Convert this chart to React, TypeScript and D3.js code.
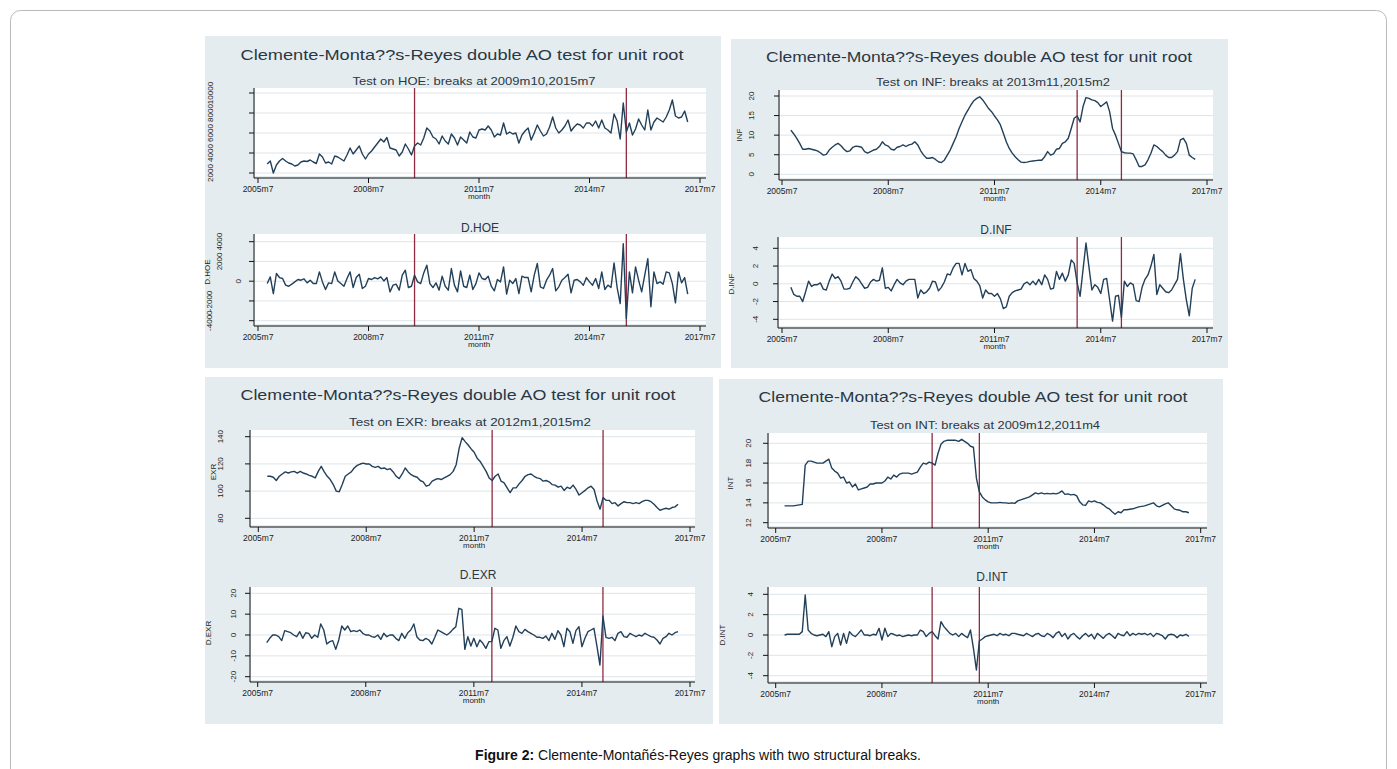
import * as d3 from "d3";
import React from "react";

// month index counted from 2005m7 (= 0); series run 2005m10 .. 2017m3
const months = d3.range(3, 141);
const xTicks = [0, 36, 72, 108, 144];
const xTickLabels = ["2005m7", "2008m7", "2011m7", "2014m7", "2017m7"];

const hoe = [
  2900, 3200, 2000, 2800, 3200, 3450, 3200, 3000, 2900, 2700,
  2800, 3100, 3200, 3150, 3300, 3100, 2950, 3900, 3600, 3000,
  3100, 2900, 3700, 3600, 3400, 3200, 3800, 4500, 3900, 4300,
  4700, 3900, 3400, 3900, 4200, 4600, 5000, 5400, 5100, 5550,
  4500, 4400, 4300, 3700, 4100, 4900, 4400, 3800, 4700, 5000,
  4800, 5500, 6500, 6200, 5600, 5400, 4900, 5700, 5200, 4900,
  5900, 5500, 4800, 5600, 5300, 5000, 6100, 5600, 5500, 6300,
  6400, 6300, 6700, 6300, 5600, 5900, 5800, 7000, 5900, 6100,
  5900, 6000, 5000, 5800, 6200, 6500, 5300, 6000, 6800, 6200,
  5700, 5900, 6600, 7600, 6500, 6000, 6300, 6700, 7300, 6200,
  6600, 6900, 6800, 6500, 7000, 7000, 6700, 7200, 6500, 7300,
  6500, 6300, 6000, 7900, 7200, 5400, 9000, 6100, 7000, 5800,
  6400, 7400, 6800, 6300, 8300, 6300, 7100, 7500, 7300, 7100,
  7600, 8300, 9300, 7700, 7500, 7600, 8200, 7100,
];
const dHoe = [
  -240, 440, -1250, 780, 370, 270, -400, -510, -300, -70,
  170, 100, 240, -170, 100, -240, -240, 940, -70, -840,
  -170, -240, 940, 30, -240, -510, 270, 940, -640, 370,
  710, -740, -510, 270, 170, 370, 240, 440, 30, 370,
  -1080, -400, -300, -910, 610, 1110, -640, -510, 610, -70,
  -240, 840, 1620, -240, -640, -170, -910, 510, -510, -910,
  1280, -400, -1080, 1040, -510, -640, 610, -840, -240, 840,
  270, 170, 510, -510, -980, 170, -70, 1450, -1310, 100,
  -240, 270, -1250, 510, 370, 370, -1080, 610, 1790, -570,
  -740, 100, 610, 1280, -980, -570, 100, 370, 710, -1180,
  100, 170, -70, -400, 370, -70, -400, 270, -740, 940,
  -840, -400, -640, 1850, -640, -2260, 3810, -3770, 940, -1180,
  1450, 100, -1080, 610, 2290, -2590, 940, -240, -70, -300,
  940, 840, -240, -2190, 940, -170, 370, -1310,
];
const inf = [
  11.3, 10.3, 9.2, 7.9, 6.4, 6.4, 6.6, 6.4, 6.2, 6.0,
  5.5, 4.9, 5.1, 6.2, 6.9, 7.5, 7.9, 7.3, 6.4, 5.8,
  6.0, 6.9, 7.2, 7.1, 6.9, 5.8, 5.4, 5.8, 6.2, 6.4,
  7.1, 8.3, 7.5, 7.2, 6.4, 6.2, 6.9, 7.1, 7.5, 7.1,
  7.5, 7.7, 8.3, 7.5, 6.0, 4.9, 4.1, 4.1, 4.3, 3.8,
  3.2, 3.0, 3.6, 4.9, 6.2, 7.9, 9.6, 11.7, 13.4, 15.1,
  16.4, 17.7, 18.8, 19.4, 19.8, 19.0, 17.9, 16.8, 16.0, 14.9,
  13.9, 12.6, 10.5, 8.3, 6.6, 5.4, 4.5, 3.7, 3.1, 3.0,
  3.1, 3.3, 3.4, 3.5, 3.6, 3.6, 4.5, 5.8, 4.9, 5.2,
  6.4, 6.6, 7.9, 8.3, 9.2, 11.7, 14.3, 14.9, 13.4, 17.3,
  19.6, 19.4, 19.0, 18.8, 18.3, 17.3, 17.9, 18.5, 16.0, 11.7,
  10.0, 7.9, 5.8, 5.5, 5.4, 5.4, 5.2, 3.7, 2.0, 2.0,
  2.4, 3.7, 5.4, 7.5, 7.1, 6.4, 5.8, 4.9, 4.3, 4.3,
  4.9, 5.8, 8.8, 9.2, 7.9, 4.9, 4.3, 3.8,
];
const dInf = [
  -0.4, -1.2, -1.4, -1.4, -2.0, -0.9, 0.3, -0.3, -0.1, -0.1,
  0.1, -0.6, -0.7, 0.3, 1.1, 0.6, 0.8, 0.3, -0.6, -0.6,
  -0.5, 0.2, 0.8, 0.5, 0.0, -0.5, -0.4, 0.2, 0.5, 0.3,
  0.4, 1.8, -0.5, -0.4, -0.8, -0.1, 0.5, 0.1, -0.1, 0.3,
  0.5, 0.5, 0.5, -1.6, -0.7, -1.1, -0.9, -0.5, 0.3, 0.2,
  -0.8, -0.4, 0.2, 1.1, 1.0, 1.8, 2.3, 2.3, 1.0, 2.3,
  1.4, 1.6, 0.6, 0.3, -0.2, -1.6, -0.7, -1.1, -1.1, -1.4,
  -1.1, -1.7, -2.8, -2.6, -1.4, -1.0, -0.8, -0.7, -0.6, 0.0,
  0.2, -0.1, 0.3, -0.1, 0.5, -0.1, 1.0, 0.5, -0.6, -0.5,
  1.4, 0.5, 1.2, 0.3, 1.0, 2.7, 2.3, 0.1, -1.4, 1.6,
  4.6, 1.9, -0.7, -0.1, -0.4, -1.1, 0.5, 0.6, -1.8, -4.2,
  -1.4, -1.3, -3.8, 0.3, -0.3, 0.1, -0.1, -1.9, -2.0, -0.4,
  0.5, 1.0, 2.0, 3.3, -1.2, -0.1, -0.5, -0.9, -1.0, -0.7,
  -0.1, 0.5, 3.4, 0.5, -1.8, -3.6, -0.5, 0.5,
];
const exr = [
  110.9, 110.9, 110.2, 107.8, 110.9, 112.6, 114.1, 113.3, 114.1, 114.5,
  113.3, 114.5, 113.3, 112.6, 111.6, 110.9, 109.7, 114.5, 118.2, 114.1,
  110.9, 108.5, 104.8, 100.0, 99.5, 104.8, 110.9, 112.6, 114.1, 117.0,
  118.9, 119.9, 120.6, 119.9, 119.9, 118.2, 117.5, 118.2, 116.5, 117.0,
  115.8, 116.5, 114.1, 110.9, 109.2, 112.6, 117.0, 114.1, 112.1, 110.9,
  110.2, 107.8, 106.8, 103.6, 104.4, 107.3, 108.5, 109.2, 108.5, 109.7,
  110.9, 112.1, 114.5, 119.4, 131.5, 139.3, 136.4, 133.9, 131.0, 128.6,
  124.2, 121.8, 118.2, 114.5, 109.7, 107.8, 110.9, 112.6, 107.3, 106.1,
  102.4, 98.8, 102.4, 102.4, 105.3, 107.8, 110.9, 112.1, 112.6, 110.9,
  109.7, 109.2, 107.3, 107.8, 106.8, 104.8, 104.4, 102.9, 103.6, 100.5,
  102.9, 101.9, 104.4, 101.2, 97.1, 98.8, 100.5, 102.4, 103.6, 101.2,
  92.7, 86.7, 95.2, 93.2, 93.2, 90.8, 91.5, 89.1, 90.8, 92.2,
  91.5, 91.5, 90.8, 91.5, 90.8, 92.2, 93.2, 93.2, 92.2, 90.3,
  87.9, 85.9, 86.7, 87.4, 86.7, 87.9, 88.4, 90.3,
];
const dExr = [
  -3.7, -1.6, 0, 0, -0.8, -2.7, 2.1, 1.6, 1.1, 0,
  -0.8, 1.6, -1.6, 1.1, 0.8, -1.6, 0, -1.1, 5.3, 2.4,
  -4.3, -3.2, -2.7, -6.9, -2.4, 4.3, 2.4, 4.3, 1.6, 2.1,
  1.6, 2.4, 0.8, 0, 0, -0.8, -1.1, 0, -2.1, 0.8,
  -0.8, 0, 0, -1.6, -2.7, 0.8, -1.6, 1.1, 2.4, 5.3,
  -0.8, -2.4, -2.7, -1.6, -2.4, -4.3, -1.1, 2.4, 1.6, 0.8,
  0, 1.1, 2.7, 4.0, 12.8, 12.3, -6.9, -0.8, -5.3, -1.6,
  -5.6, -2.4, -4.0, -6.4, -3.2, -3.2, 3.2, 2.4, -6.4, -2.7,
  -0.8, -5.3, -1.1, 4.3, 1.6, 0.8, 2.7, 1.6, 0.8, 0,
  -1.1, -1.1, -1.6, -0.5, -2.7, 0.8, -2.1, 2.1, 0, -5.6,
  3.2, 1.6, -4.0, 2.1, 4.0, -5.6, -1.6, 1.6, 2.4, 3.2,
  -5.3, -14.4, 9.1, -1.1, -1.6, -1.1, -2.7, 0.8, 1.6, -0.8,
  -1.1, 0.8, 0, -0.8, 0, -0.5, 0.8, 0, -0.8, -1.1,
  -2.4, -4.3, -1.6, -0.8, 0.8, 0, 1.1, 1.6,
];
const intr = [
  13.7, 13.7, 13.7, 13.7, 13.75, 13.8, 13.85, 17.8, 18.2, 18.2,
  18.1, 18.0, 18.0, 18.0, 18.2, 18.4, 17.5, 17.2, 17.0, 16.5,
  16.6, 16.0, 16.1, 15.6, 15.9, 15.3, 15.4, 15.5, 15.6, 15.9,
  15.9, 16.0, 16.0, 16.0, 16.2, 16.6, 16.4, 16.8, 16.6, 16.9,
  17.0, 17.0, 17.0, 16.9, 17.0, 17.1, 17.6, 18.0, 17.9, 18.1,
  18.0, 17.8, 19.0, 19.9, 20.2, 20.3, 20.3, 20.3, 20.3, 20.2,
  20.4, 20.2, 20.0, 19.7, 19.6, 16.5, 15.1, 14.6, 14.3, 14.1,
  14.0, 14.0, 14.0, 14.05, 14.0, 14.0, 13.95, 14.0, 13.95, 14.2,
  14.3, 14.4, 14.5, 14.6, 14.8, 15.0, 14.9, 15.0, 14.9, 14.95,
  14.9, 14.95, 14.9, 15.0, 15.2, 14.85, 14.9, 14.8, 14.85, 14.7,
  14.1, 13.8, 13.75, 14.2, 14.1, 14.2, 14.05, 14.0, 13.8, 13.55,
  13.4, 13.1, 12.85, 13.1, 13.0, 13.3, 13.3, 13.35, 13.4, 13.5,
  13.6, 13.65, 13.7, 13.8, 13.9, 14.0, 13.7, 13.6, 13.75, 13.9,
  14.0, 13.7, 13.4, 13.3, 13.25, 13.1, 13.1, 13.0,
];
const dInt = [
  0, 0.07, 0.07, 0.07, 0.07, 0.07, 0.33, 3.93, 0.49, 0.16,
  0, -0.07, 0, 0.07, -0.16, 0.33, -1.15, -0.16, 0.16, -0.98,
  0.16, -0.82, 0.33, 0, -0.16, 0.16, 0.49, 0, 0, -0.07,
  0.07, 0, 0.66, -0.49, 0.66, -0.16, 0.16, 0.07, -0.07, 0,
  -0.16, -0.07, 0, -0.07, 0, 0, 0.49, 0.33, -0.16, 0.16,
  0.33, -0.07, -0.39, 1.31, 0.82, 0.49, 0.16, 0, 0.16, -0.16,
  0.16, -0.07, -0.26, 0.49, -1.31, -3.44, -0.59, -0.39, -0.16, -0.07,
  0, 0.07, -0.07, 0.16, 0, 0.07, -0.07, 0.16, 0.16, 0.07,
  0, -0.07, 0.16, 0, -0.16, 0.07, 0.16, -0.07, -0.16, 0.16,
  0, -0.26, 0.16, 0.33, -0.16, 0.16, -0.39, 0, 0.16, -0.16,
  -0.39, -0.07, 0.16, -0.16, 0.07, -0.39, 0.16, -0.07, -0.33, 0,
  0.16, -0.07, -0.33, 0.16, 0, -0.07, 0.33, -0.07, 0.16, 0,
  0.16, 0.07, 0.16, 0, 0.16, -0.16, 0.16, 0.07, -0.07, -0.39,
  0, 0.07, 0, -0.26, 0, -0.07, 0.07, -0.13,
];

// break dates (months from 2005m7)
const hoeBreaks = [51, 120]; // 2009m10, 2015m7
const infBreaks = [100, 115]; // 2013m11, 2015m2
const exrBreaks = [78, 115]; // 2012m1, 2015m2
const intBreaks = [53, 69]; // 2009m12, 2011m4

const hoeTicks = [2000, 4000, 6000, 8000, 10000];
const dHoeTicks = [-4000, -2000, 0, 2000, 4000];
const infTicks = [0, 5, 10, 15, 20];
const dInfTicks = [-4, -2, 0, 2, 4];
const exrTicks = [80, 100, 120, 140];
const dExrTicks = [-20, -10, 0, 10, 20];
const intTicks = [12, 14, 16, 18, 20];
const dIntTicks = [-4, -2, 0, 2, 4];

const mainTitle = "Clemente-Monta??s-Reyes double AO test for unit root";
const FONT = "'Liberation Sans', Arial, Helvetica, sans-serif";
const LINE = "#22405a";
const BREAK = "#8e2b40";
const PANEL_BG = "#e5ecef";
const GRID = "#dde5e9";
const TXT = "#2a3744";

const Subplot = ({ values, ticks, breaks, box, axisTitle, heading }: any) => {
  const x = d3.scaleLinear().domain([0, 144]).range([box.x0, box.x1]);
  const y = d3.scaleLinear().domain([ticks[0], ticks[ticks.length - 1]]).range(box.yPx);
  const path = d3.line<number>()
    .x((_, i) => x(months[i]))
    .y(v => y(v))(values) as string;
  const labelX = (t: number) => (box.labelXFor ? box.labelXFor(t) : box.labelX);

  return (
    <g>
      <rect x={box.left + 1} y={box.top} width={box.right - box.left - 1} height={box.bottom - box.top - 2} fill="#fff" />
      {ticks.map((t: number) => (
        <line key={"g" + t} x1={box.left} x2={box.right} y1={y(t)} y2={y(t)} stroke={GRID} strokeWidth={1} />
      ))}
      {breaks.map((b: number) => (
        <line key={"b" + b} x1={x(b)} x2={x(b)} y1={box.top} y2={box.bottom} stroke={BREAK} strokeWidth={1.3} />
      ))}
      <path d={path} fill="none" stroke={LINE} strokeWidth={1.4} strokeLinejoin="round" />
      {/* y axis */}
      <line x1={box.left} x2={box.left} y1={box.top} y2={box.bottom} stroke="#111" strokeWidth={1} />
      {ticks.map((t: number) => (
        <g key={"yt" + t}>
          <line x1={box.left - 5} x2={box.left} y1={y(t)} y2={y(t)} stroke="#111" strokeWidth={1} />
          <text
            transform={`translate(${labelX(t) + 3},${y(t)}) rotate(-90)`}
            textAnchor="middle"
            fontSize={8}
            fill="#222"
            fontFamily={FONT}
          >
            {t}
          </text>
        </g>
      ))}
      {axisTitle && (
        <text
          transform={`translate(${box.titleX + 3},${box.titleY}) rotate(-90)`}
          textAnchor="middle"
          fontSize={8}
          fill="#222"
          fontFamily={FONT}
        >
          {axisTitle}
        </text>
      )}
      {/* x axis */}
      <line x1={box.left} x2={box.right} y1={box.bottom} y2={box.bottom} stroke="#111" strokeWidth={1} />
      {xTicks.map((t, i) => (
        <g key={"xt" + t}>
          <line x1={x(t)} x2={x(t)} y1={box.bottom} y2={box.bottom + 5} stroke="#111" strokeWidth={1} />
          <text x={x(t)} y={box.bottom + 13.5} textAnchor="middle" fontSize={8.5} fill="#222" fontFamily={FONT}>
            {xTickLabels[i]}
          </text>
        </g>
      ))}
      <text x={x(72)} y={box.bottom + 20.5} textAnchor="middle" fontSize={8} fill="#222" fontFamily={FONT}>
        month
      </text>
      {heading && (
        <text x={heading.x} y={heading.y} textAnchor="middle" fontSize={12} fill={TXT} fontFamily={FONT}>
          {heading.text}
        </text>
      )}
    </g>
  );
};

const Panel = ({ bg, title, sub, children }: any) => (
  <g>
    <rect x={bg.x} y={bg.y} width={bg.w} height={bg.h} fill={PANEL_BG} />
    <text x={title.x} y={title.y} textAnchor="middle" fontSize={15} fill={TXT} fontFamily={FONT}
      textLength={title.len} lengthAdjust="spacingAndGlyphs">
      {mainTitle}
    </text>
    <text x={sub.x} y={sub.y} textAnchor="middle" fontSize={11.5} fill={TXT} fontFamily={FONT}
      textLength={sub.len} lengthAdjust="spacingAndGlyphs">
      {sub.text}
    </text>
    {children}
  </g>
);

const App = () => {
  return (
    <svg
      width={1397}
      height={769}
      style={{ position: "fixed", left: 0, top: 0, background: "#fff" }}
    >
      <rect x={10.5} y={10.5} width={1376} height={800} rx={10} fill="#fff" stroke="#b9b9b9" strokeWidth={1} />

      {/* HOE */}
      <Panel bg={{ x: 205, y: 36, w: 516, h: 332 }}
        title={{ x: 462, y: 60, len: 443 }}
        sub={{ x: 474, y: 85, len: 243, text: "Test on HOE: breaks at 2009m10,2015m7" }}>
        <Subplot values={hoe} ticks={hoeTicks} breaks={hoeBreaks}
          box={{ left: 254, right: 706, top: 88, bottom: 178, x0: 258, x1: 700, yPx: [173, 93], labelX: 210 }} />
        <Subplot values={dHoe} ticks={dHoeTicks} breaks={hoeBreaks} axisTitle="D.HOE"
          heading={{ x: 480, y: 232, text: "D.HOE" }}
          box={{
            left: 254, right: 706, top: 234, bottom: 326, x0: 258, x1: 700, yPx: [320.7, 241.7],
            labelX: 219, labelXFor: (t: number) => (t < 0 ? 209 : t === 0 ? 238 : 219),
            titleX: 207, titleY: 272,
          }} />
      </Panel>

      {/* INF */}
      <Panel bg={{ x: 731, y: 39, w: 497, h: 329 }}
        title={{ x: 979, y: 62, len: 426 }}
        sub={{ x: 993, y: 86, len: 234, text: "Test on INF: breaks at 2013m11,2015m2" }}>
        <Subplot values={inf} ticks={infTicks} breaks={infBreaks} axisTitle="INF"
          box={{ left: 779, right: 1213, top: 90, bottom: 180, x0: 782, x1: 1207, yPx: [174.3, 96], labelX: 751, titleX: 739, titleY: 135 }} />
        <Subplot values={dInf} ticks={dInfTicks} breaks={infBreaks} axisTitle="D.INF"
          heading={{ x: 996, y: 234, text: "D.INF" }}
          box={{ left: 778, right: 1213, top: 237, bottom: 328, x0: 782, x1: 1207, yPx: [319.3, 248.3], labelX: 755, titleX: 731, titleY: 284 }} />
      </Panel>

      {/* EXR */}
      <Panel bg={{ x: 205, y: 377, w: 508, h: 347 }}
        title={{ x: 458, y: 400, len: 435 }}
        sub={{ x: 470, y: 426, len: 242, text: "Test on EXR: breaks at 2012m1,2015m2" }}>
        <Subplot values={exr} ticks={exrTicks} breaks={exrBreaks} axisTitle="EXR"
          box={{ left: 250, right: 695, top: 430, bottom: 527, x0: 258.3, x1: 690, yPx: [518.3, 436.7], labelX: 220, titleX: 213, titleY: 472 }} />
        <Subplot values={dExr} ticks={dExrTicks} breaks={exrBreaks} axisTitle="D.EXR"
          heading={{ x: 478, y: 579, text: "D.EXR" }}
          box={{ left: 250, right: 695, top: 587, bottom: 682, x0: 257.7, x1: 690, yPx: [676.7, 593.3], labelX: 233, titleX: 208, titleY: 633 }} />
      </Panel>

      {/* INT */}
      <Panel bg={{ x: 719, y: 379, w: 504, h: 345 }}
        title={{ x: 973, y: 402, len: 429 }}
        sub={{ x: 985, y: 429, len: 230, text: "Test on INT: breaks at 2009m12,2011m4" }}>
        <Subplot values={intr} ticks={intTicks} breaks={intBreaks} axisTitle="INT"
          box={{ left: 768, right: 1207, top: 433, bottom: 528, x0: 775.7, x1: 1200.7, yPx: [522.7, 443.3], labelX: 748, titleX: 730, titleY: 483 }} />
        <Subplot values={dInt} ticks={dIntTicks} breaks={intBreaks} axisTitle="D.INT"
          heading={{ x: 992, y: 581, text: "D.INT" }}
          box={{ left: 768, right: 1207, top: 587, bottom: 683, x0: 775.7, x1: 1200.7, yPx: [675.7, 594.3], labelX: 750, titleX: 722, titleY: 635 }} />
      </Panel>

      <text x={698} y={760} textAnchor="middle" fontSize={14} fill="#111" fontFamily={FONT}>
        <tspan fontWeight="bold">Figure 2:</tspan> Clemente-Montañés-Reyes graphs with two structural breaks.
      </text>
    </svg>
  );
};

export default App;
